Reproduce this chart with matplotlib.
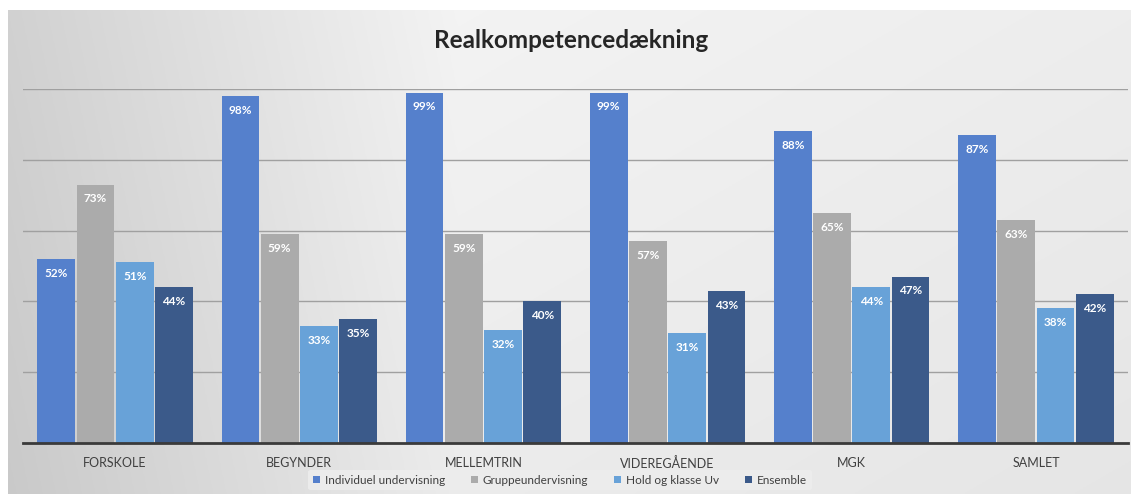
import numpy as np
import matplotlib.pyplot as plt

plt.rcParams["font.family"] = ["Lato", "DejaVu Sans"]

categories = ["FORSKOLE", "BEGYNDER", "MELLEMTRIN", "VIDEREGÅENDE", "MGK", "SAMLET"]
series_names = ["Individuel undervisning", "Gruppeundervisning", "Hold og klasse Uv", "Ensemble"]
individuel = [0.52, 0.98, 0.99, 0.99, 0.88, 0.87]
gruppe = [0.73, 0.59, 0.59, 0.57, 0.65, 0.63]
hold = [0.51, 0.33, 0.32, 0.31, 0.44, 0.38]
ensemble = [0.44, 0.35, 0.40, 0.43, 0.47, 0.42]

colors = ["#5580CC", "#ABABAB", "#68A2D8", "#3B5A8A"]

W, H = 1131, 494
fig = plt.figure(figsize=(W / 100, H / 100), dpi=100)
fig.patch.set_facecolor("white")

# gradient background panel
bg = fig.add_axes([8 / W, 0, 1 - 8 / W, 1 - 10 / H])
bg.set_axis_off()
xx = np.linspace(0, 1, 400)
yy = np.linspace(0, 1, 200)
X, Y = np.meshgrid(xx, yy)
shade = 0.79 + 0.15 * np.clip(X * 2.5, 0, 1) - 0.04 * X + 0.03 * (1 - Y)
shade = np.clip(shade, 0, 1)
bg.imshow(np.dstack([shade] * 3), aspect="auto", extent=[0, 1, 0, 1], origin="upper")
bg.set_xlim(0, 1)
bg.set_ylim(0, 1)

ax = fig.add_axes([23 / W, (H - 443) / H, (1128 - 23) / W, (443 - 89) / H])
ax.patch.set_alpha(0)

x = np.arange(len(categories))
bw = 0.205
data = [individuel, gruppe, hold, ensemble]
for i, (vals, name, c) in enumerate(zip(data, series_names, colors)):
    pos = x + (i - 1.5) * (bw + 0.008)
    bars = ax.bar(pos, vals, bw, color=c, label=name, zorder=3)
    for b, v in zip(bars, vals):
        ax.text(b.get_x() + b.get_width() / 2, v - 0.025, f"{round(v * 100)}%",
                ha="center", va="top", color="white", fontsize=8.5,
                fontweight="bold", zorder=4)

ax.set_xlim(-0.5, len(categories) - 0.5)
ax.set_ylim(0, 1.0)
ax.set_yticks([0.2, 0.4, 0.6, 0.8, 1.0])
ax.yaxis.grid(True, color="#A0A0A0", linewidth=1, zorder=0)
ax.set_yticklabels([])
ax.tick_params(axis="y", length=0)
ax.set_xticks(x)
ax.set_xticklabels(categories, fontsize=9, color="#404040")
ax.tick_params(axis="x", length=0, pad=10)
for s in ["top", "right", "left"]:
    ax.spines[s].set_visible(False)
ax.spines["bottom"].set_color("#3A3A3A")
ax.spines["bottom"].set_linewidth(2)
ax.spines["bottom"].set_zorder(5)

fig.text(571 / W, 1 - 41 / H, "Realkompetencedækning", ha="center", va="center",
         fontsize=17.5, fontweight="bold", color="#262626")

leg = fig.legend(loc="center", bbox_to_anchor=(560 / W, 1 - 480 / H), ncol=4,
                 frameon=True, fontsize=8.5, handlelength=0.6, handleheight=0.6,
                 handletextpad=0.4, columnspacing=2.2, borderpad=0.4)
leg.get_frame().set_facecolor("#EDEDED")
leg.get_frame().set_edgecolor("none")
leg.get_frame().set_alpha(0.9)
for t in leg.get_texts():
    t.set_color("#404040")

fig.savefig("out.png", dpi=100)
